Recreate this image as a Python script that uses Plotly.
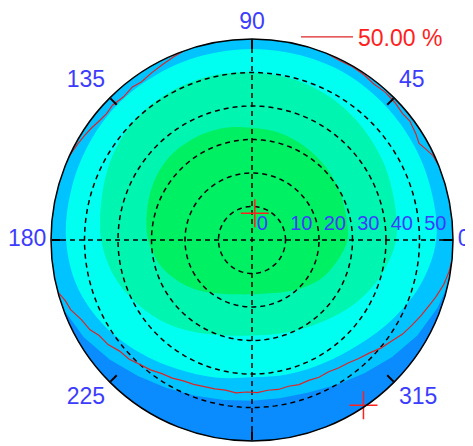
import numpy as np
import plotly.graph_objects as go

# ---------------- data ----------------
R_MAX = 60
radial_ticks = [0, 10, 20, 30, 40, 50]
angular_ticks = [0, 45, 90, 135, 180, 225, 270, 315]
# the 270 label lies outside the visible picture in the reference
angular_labels = [0, 45, 90, 135, 180, 225, 315]

band_theta = [0, 15, 30, 45, 60, 75, 90, 105, 120, 135, 150, 165,
              180, 195, 210, 225, 240, 255, 270, 285, 300, 315, 330, 345]
# boundary green -> sea green
b1_r = [28.5, 29, 30, 31, 32, 33, 33.5, 34.5, 35, 35, 34, 32.5,
        31, 28.5, 25, 21.5, 18.5, 16.8, 16.2, 16.5, 18, 20.5, 23.5, 26]
# boundary sea green -> cyan
b2_r = [43, 44, 45.5, 47, 48.5, 49.5, 50, 50.5, 50.5, 50, 48.5, 46.5,
        45, 42.5, 39, 35.5, 32, 29.5, 28.5, 29, 30.5, 33, 36.5, 40]
# boundary cyan -> light blue
b3_r = [55, 55.5, 56, 56.5, 57, 57, 57, 57, 57, 57, 56.5, 56,
        55.5, 54, 51, 47.5, 44.5, 42.5, 41, 41.5, 42.5, 44.5, 48, 52]
# boundary light blue -> blue (bottom only)
b4_theta = [200, 210, 220, 230, 240, 250, 260, 270, 280, 290, 300, 310, 320, 330, 340, 347]
b4_r = [60, 58, 55.5, 53, 51, 49.5, 48.5, 48, 48, 48.5, 50, 52, 54.5, 57, 59, 60]

# 50 % contour (red), three visible pieces
c50a_theta = [22, 25, 28, 30, 33, 37, 40, 44, 48, 52, 56, 60, 64, 68]
c50a_r = [60, 59.6, 58.4, 57.6, 58.3, 59, 58.7, 59.2, 59.4, 59.1, 59.6, 59.8, 59.6, 60]
c50b_theta = [110, 113, 117, 121, 125, 128, 132, 136, 139, 142, 145, 148, 151, 155]
c50b_r = [60, 59.5, 58.8, 58.2, 57.6, 58.0, 57.4, 57.9, 57.5, 57.8, 58.4, 58.9, 59.4, 60]
c50c_theta = [195, 198, 201, 205, 209, 212, 216, 220, 224, 228, 232, 236, 240, 244, 248,
              252, 256, 260, 264, 268, 272, 276, 280, 284, 288, 292, 296, 300, 304,
              308, 312, 316, 320, 324, 328, 332, 336, 340, 343, 347, 351, 354]
c50c_r = [60, 58.6, 58.0, 56.2, 55.3, 53.8, 53.1, 51.6, 51.1, 50.0, 49.2, 48.1, 47.6,
          46.8, 46.5, 46.0, 45.8, 45.5, 45.9, 45.4, 45.6, 45.1, 45.3, 45.0, 45.4,
          45.2, 45.6, 45.5, 46.1, 46.6, 47.6, 48.6, 50.2, 51.4, 53.0, 54.1, 55.3,
          56.5, 57.5, 58.8, 59.6, 60]

# red cross markers
cross_r = [8, 59.5]
cross_theta = [84, 304]

legend_label = "50.00 %"

# ---------------- styling ----------------
C_BLUE = "#0a8cff"
C_LBLUE = "#00c3ff"
C_CYAN = "#00fff0"
C_SEA = "#00f5b0"
C_GREEN = "#00f064"
C_LABEL = "#3c3cff"
C_RED = "#ff2020"
FONT = "Liberation Sans, Arial, sans-serif"
DASH = "5px,4px"
POS_BY_ANGLE = {0: "middle right", 45: "top right", 90: "top center", 135: "top left",
                180: "middle left", 225: "bottom left", 270: "bottom center",
                315: "bottom right"}

fig = go.Figure()


def closed(th, r):
    return list(th) + [th[0]], list(r) + [r[0]]


# blue region at bottom: inner boundary + outer edge of the plot
edge_theta = list(np.arange(b4_theta[-1], b4_theta[0] - 1, -5))
blue_theta = b4_theta + edge_theta
blue_r = b4_r + [R_MAX] * len(edge_theta)
fig.add_trace(go.Scatterpolar(r=blue_r + [blue_r[0]], theta=blue_theta + [blue_theta[0]],
                              mode="lines", fill="toself", fillcolor=C_BLUE,
                              line=dict(width=0, color=C_BLUE), hoverinfo="skip",
                              showlegend=False))

for rr, col in [(b3_r, C_CYAN), (b2_r, C_SEA), (b1_r, C_GREEN)]:
    th, r = closed(band_theta, rr)
    fig.add_trace(go.Scatterpolar(r=r, theta=th, mode="lines", fill="toself",
                                  fillcolor=col,
                                  line=dict(width=0, color=col, shape="spline", smoothing=1),
                                  hoverinfo="skip", showlegend=False))

# dashed grid circles
circ_theta = list(np.arange(0, 361, 2))
for rv in radial_ticks[1:]:
    fig.add_trace(go.Scatterpolar(r=[rv] * len(circ_theta), theta=circ_theta, mode="lines",
                                  line=dict(color="black", width=1.5, dash=DASH),
                                  hoverinfo="skip", showlegend=False))

# dashed cross
for a, b in [(0, 180), (90, 270)]:
    fig.add_trace(go.Scatterpolar(r=[R_MAX, 0, R_MAX], theta=[a, a, b], mode="lines",
                                  line=dict(color="black", width=1.5, dash=DASH),
                                  hoverinfo="skip", showlegend=False))

# 50% contour
for i, (th, r) in enumerate([(c50a_theta, c50a_r), (c50b_theta, c50b_r),
                             (c50c_theta, c50c_r)]):
    fig.add_trace(go.Scatterpolar(r=r, theta=th, mode="lines",
                                  line=dict(color="#dc2626", width=1.2),
                                  name=legend_label, legendgroup="c50",
                                  showlegend=(i == 0)))

# red crosses
fig.add_trace(go.Scatterpolar(r=cross_r, theta=cross_theta, mode="markers",
                              marker=dict(symbol="cross-thin", size=20,
                                          line=dict(color=C_RED, width=1.5)),
                              cliponaxis=False, showlegend=False, hoverinfo="skip"))

# radial labels
fig.add_trace(go.Scatterpolar(r=radial_ticks, theta=[0] * len(radial_ticks),
                              mode="markers+text",
                              marker=dict(size=6, color="rgba(0,0,0,0)"),
                              text=[str(v) for v in radial_ticks],
                              textposition="top right",
                              textfont=dict(color=C_LABEL, size=20, family=FONT),
                              cliponaxis=False, showlegend=False, hoverinfo="skip"))

# angular labels
fig.add_trace(go.Scatterpolar(r=[R_MAX] * len(angular_labels), theta=angular_labels,
                              mode="markers+text",
                              marker=dict(size=6, color="rgba(0,0,0,0)"),
                              text=[str(v) for v in angular_labels],
                              textposition=[POS_BY_ANGLE[a] for a in angular_labels],
                              textfont=dict(color=C_LABEL, size=23, family=FONT),
                              cliponaxis=False, showlegend=False, hoverinfo="skip"))

# note: the page body adds an 8px offset, margins compensate for it
fig.update_layout(
    width=473, height=446,
    margin=dict(l=42, r=27, t=31, b=13, autoexpand=False),
    paper_bgcolor="white",
    font=dict(family=FONT),
    polar=dict(
        bgcolor=C_LBLUE,
        domain=dict(x=[0, 1], y=[0, 1]),
        radialaxis=dict(range=[0, R_MAX], tickvals=radial_ticks[1:], showticklabels=False,
                        ticks="", showline=False, showgrid=False, angle=0),
        angularaxis=dict(direction="counterclockwise", rotation=0,
                         tickvals=angular_ticks, showticklabels=False,
                         showgrid=False, ticks="inside", ticklen=9, tickwidth=1.5,
                         tickcolor="black", showline=True, linecolor="black", linewidth=1.5),
    ),
    showlegend=True,
    legend=dict(xref="container", yref="container", x=288 / 473, y=1 - 29 / 446,
                xanchor="left", yanchor="middle", bgcolor="rgba(0,0,0,0)",
                itemwidth=52,
                font=dict(color=C_RED, size=23, family=FONT)),
)

fig.write_html("out.html")
